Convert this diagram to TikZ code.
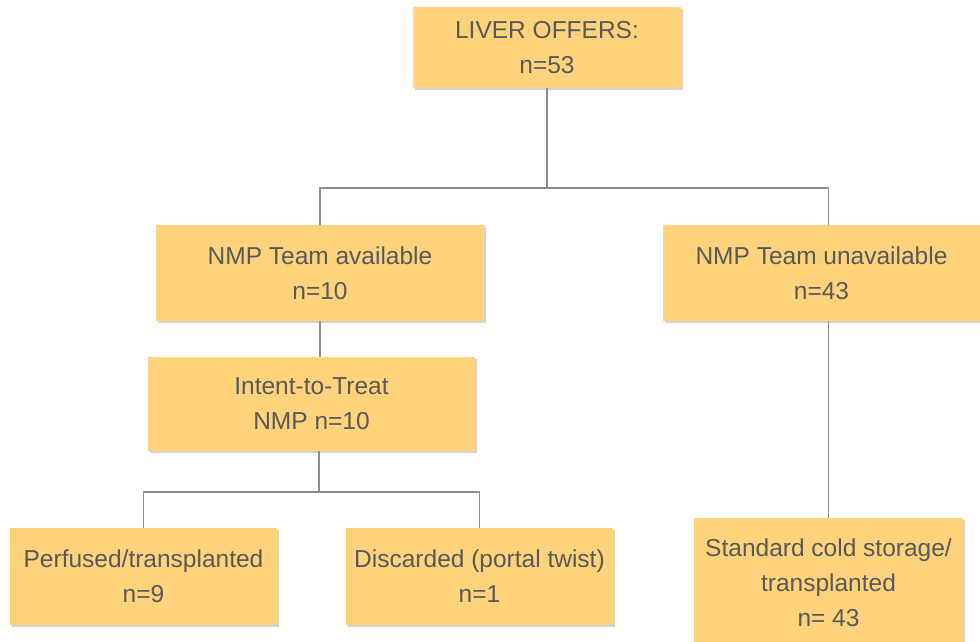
\documentclass[tikz,border=0pt]{standalone}
\usepackage{fontspec}
\setmainfont{Liberation Sans}
\usetikzlibrary{shadows}
\definecolor{boxfill}{HTML}{FFD37C}
\definecolor{boxtext}{HTML}{595959}
\definecolor{linegray}{HTML}{8C8C8C}

\begin{document}
\begin{tikzpicture}[x=1pt,y=-1pt,
        box/.style={fill=boxfill,text=boxtext,align=center,inner sep=0pt,
            font=\fontsize{24.5}{35}\selectfont,
            drop shadow={opacity=0.35,shadow xshift=1.5pt,shadow yshift=-2pt}},
        link/.style={draw=linegray,line width=1.3pt}]
        \useasboundingbox (0,0) rectangle (980,641);
        % nodi
        \node[box,minimum width=268pt,minimum height=81pt] (offers)  at (547,47.5)  {LIVER OFFERS:\\n=53};
        \node[box,minimum width=328pt,minimum height=96pt] (avail)   at (320,273)   {NMP Team available\\n=10};
        \node[box,minimum width=317pt,minimum height=96pt] (unavail) at (821.5,273) {NMP Team unavailable\\n=43};
        \node[box,minimum width=327pt,minimum height=94pt] (intent)  at (311.5,404) {Intent-to-Treat\\NMP n=10};
        \node[box,minimum width=267pt,minimum height=97pt] (perf)    at (143.5,576.5) {Perfused/transplanted\\n=9};
        \node[box,minimum width=267pt,minimum height=97pt] (disc)    at (479.5,576.5) {Discarded (portal twist)\\n=1};
        \node[box,minimum width=269pt,minimum height=130pt] (std)    at (828.5,583) {Standard cold storage/\\transplanted\\n= 43};
        % snodi
        \coordinate (j1) at (547,188);
        \coordinate (j2) at (319,492);
        % archi
        \draw[link] (offers) -- (j1);
        \draw[link] (avail.north) |- (j1) -| (std.north |- unavail.north);
        \draw[link] (avail.south) -- (avail.south |- intent.north);
        \draw[link] (j2 |- intent.south) -- (j2);
        \draw[link] (perf.north) |- (j2) -| (disc.north);
        \draw[link] (std.north |- unavail.south) -- (std.north);
\end{tikzpicture}
\end{document}
